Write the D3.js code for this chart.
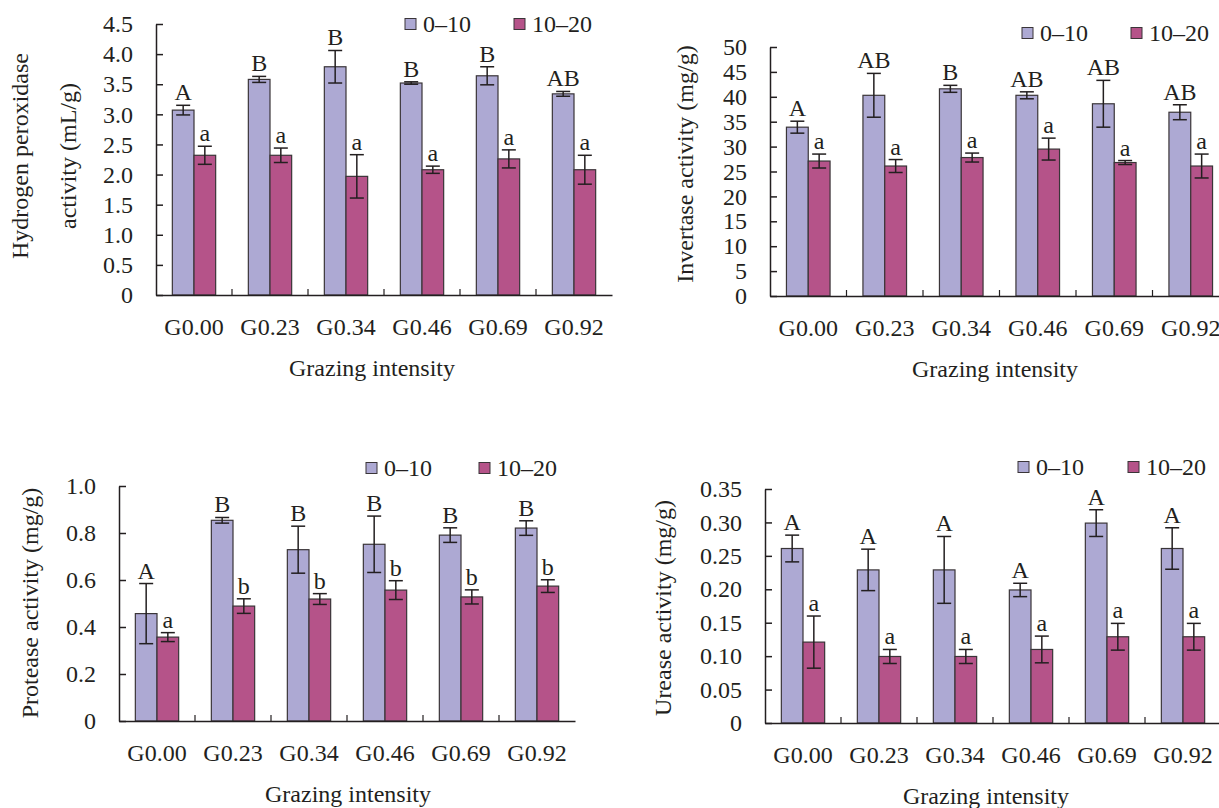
<!DOCTYPE html>
<html>
<head>
<meta charset="utf-8">
<script src="https://cdn.jsdelivr.net/npm/d3@7"></script>
<style>
  body { margin: 0; background: #fff; }
  svg text { font-family: "Liberation Serif", "Times New Roman", serif; fill: #231f20; }
</style>
</head>
<body>
<svg id="vis" width="1219" height="808"></svg>
<script>
// ---- data ----
const categories = ["G0.00", "G0.23", "G0.34", "G0.46", "G0.69", "G0.92"];
const seriesNames = ["0\u201310", "10\u201320"];

const peroxTop = [3.07, 3.58, 3.79, 3.52, 3.64, 3.34];
const peroxTopErr = [0.08, 0.05, 0.27, 0.02, 0.15, 0.04];
const peroxSub = [2.32, 2.32, 1.97, 2.08, 2.26, 2.08];
const peroxSubErr = [0.15, 0.12, 0.36, 0.06, 0.15, 0.24];
const peroxTopLetters = ["A", "B", "B", "B", "B", "AB"];
const peroxSubLetters = ["a", "a", "a", "a", "a", "a"];
const peroxTicks = [0, 0.5, 1, 1.5, 2, 2.5, 3, 3.5, 4, 4.5];
const peroxTickLabels = ["0", "0.5", "1.0", "1.5", "2.0", "2.5", "3.0", "3.5", "4.0", "4.5"];

const invTop = [33.9, 40.3, 41.6, 40.3, 38.6, 36.9];
const invTopErr = [1.2, 4.4, 0.7, 0.7, 4.7, 1.5];
const invSub = [27.1, 26.1, 27.8, 29.5, 26.8, 26.1];
const invSubErr = [1.4, 1.3, 0.9, 2.2, 0.4, 2.4];
const invTopLetters = ["A", "AB", "B", "AB", "AB", "AB"];
const invSubLetters = ["a", "a", "a", "a", "a", "a"];
const invTicks = [0, 5, 10, 15, 20, 25, 30, 35, 40, 45, 50];
const invTickLabels = ["0", "5", "10", "15", "20", "25", "30", "35", "40", "45", "50"];

const protTop = [0.457, 0.854, 0.729, 0.752, 0.791, 0.821];
const protTopErr = [0.128, 0.012, 0.10, 0.12, 0.031, 0.031];
const protSub = [0.357, 0.489, 0.519, 0.557, 0.528, 0.574];
const protSubErr = [0.019, 0.031, 0.023, 0.04, 0.03, 0.027];
const protTopLetters = ["A", "B", "B", "B", "B", "B"];
const protSubLetters = ["a", "b", "b", "b", "b", "b"];
const protTicks = [0, 0.2, 0.4, 0.6, 0.8, 1.0];
const protTickLabels = ["0", "0.2", "0.4", "0.6", "0.8", "1.0"];

const ureTop = [0.261, 0.229, 0.229, 0.199, 0.299, 0.261];
const ureTopErr = [0.02, 0.031, 0.05, 0.01, 0.02, 0.031];
const ureSub = [0.121, 0.0995, 0.0995, 0.11, 0.129, 0.129];
const ureSubErr = [0.039, 0.0105, 0.0105, 0.02, 0.02, 0.02];
const ureTopLetters = ["A", "A", "A", "A", "A", "A"];
const ureSubLetters = ["a", "a", "a", "a", "a", "a"];
const ureTicks = [0, 0.05, 0.10, 0.15, 0.20, 0.25, 0.30, 0.35];
const ureTickLabels = ["0", "0.05", "0.10", "0.15", "0.20", "0.25", "0.30", "0.35"];

// ---- style ----
const colors = ["#ada9d3", "#b55389"];
const fontSize = 24;
const canvas = d3.select("#vis");

function drawPanel(p) {
    const g = canvas.append("g");

    const x = d3.scaleBand().domain(categories).range([p.left, p.left + p.width]);
    const band = x.bandwidth();
    const barW = band * 0.285;
    const sub = d3.scaleBand().domain(seriesNames)
        .range([band / 2 - barW, band / 2 + barW]);
    const y = d3.scaleLinear().domain([0, d3.max(p.ticks)]).range([p.y0, p.yTop]);

    const rows = categories.map((c, i) => ({
        cat: c,
        vals: [
            { s: seriesNames[0], v: p.top[i], e: p.topErr[i], l: p.topLetters[i] },
            { s: seriesNames[1], v: p.sub[i], e: p.subErr[i], l: p.subLetters[i] }
        ]
    }));

    const groups = g.selectAll(".grp").data(rows).join("g")
        .attr("transform", d => `translate(${x(d.cat)},0)`);

    groups.selectAll("rect").data(d => d.vals).join("rect")
        .attr("x", d => sub(d.s))
        .attr("y", d => y(d.v))
        .attr("width", sub.bandwidth())
        .attr("height", d => p.y0 - y(d.v))
        .attr("fill", (d, i) => colors[i])
        .attr("stroke", "#3a3538")
        .attr("stroke-width", 1.2);

    // error bars
    const eb = groups.selectAll(".eb").data(d => d.vals).join("g")
        .attr("transform", d => `translate(${sub(d.s) + sub.bandwidth() / 2},0)`);
    eb.append("line")
        .attr("y1", d => y(d.v + d.e)).attr("y2", d => y(d.v - d.e))
        .attr("stroke", "#231f20").attr("stroke-width", 1.5);
    eb.append("line")
        .attr("x1", -7).attr("x2", 7)
        .attr("y1", d => y(d.v + d.e)).attr("y2", d => y(d.v + d.e))
        .attr("stroke", "#231f20").attr("stroke-width", 1.5);
    eb.append("line")
        .attr("x1", -7).attr("x2", 7)
        .attr("y1", d => y(d.v - d.e)).attr("y2", d => y(d.v - d.e))
        .attr("stroke", "#231f20").attr("stroke-width", 1.5);
    eb.append("text")
        .attr("text-anchor", "middle")
        .attr("y", d => y(d.v + d.e) - 5)
        .style("font-size", fontSize + "px")
        .text(d => d.l);

    // y axis, ticks pointing inward
    const yAxis = g.append("g")
        .attr("transform", `translate(${p.left},0)`)
        .call(d3.axisLeft(y).tickValues(p.ticks)
            .tickFormat((d, i) => p.tickLabels[i])
            .tickSizeInner(-7).tickSizeOuter(0).tickPadding(23));
    yAxis.selectAll("path, line").attr("stroke", "#231f20").attr("stroke-width", 1.5);
    yAxis.selectAll("text").style("font-size", fontSize + "px")
        .attr("fill", "#231f20").attr("font-family", null);

    // x axis with labels at categories
    const xAxis = g.append("g")
        .attr("transform", `translate(0,${p.y0})`)
        .call(d3.axisBottom(x).tickSize(0).tickPadding(23));
    xAxis.select("path").attr("stroke", "#231f20").attr("stroke-width", 1.5);
    xAxis.selectAll("text").style("font-size", fontSize + "px")
        .attr("fill", "#231f20").attr("font-family", null);

    // category boundary ticks, pointing up
    g.selectAll(".bt").data(categories.slice(1)).join("line")
        .attr("x1", d => x(d)).attr("x2", d => x(d))
        .attr("y1", p.y0).attr("y2", p.y0 - 6)
        .attr("stroke", "#231f20").attr("stroke-width", 1.2);

    // y title
    p.yTitle.forEach((t, i) => {
        g.append("text")
            .attr("text-anchor", "middle")
            .attr("dominant-baseline", "central")
            .attr("transform", `translate(${p.yTitleX[i]},${p.yTitleY}) rotate(-90)`)
            .style("font-size", fontSize + "px")
            .text(t);
    });

    // x title
    g.append("text")
        .attr("text-anchor", "middle")
        .attr("x", p.xTitleX).attr("y", p.y0 + 73)
        .attr("dominant-baseline", "central")
        .style("font-size", fontSize + "px")
        .text("Grazing intensity");

    // legend
    seriesNames.forEach((s, i) => {
        g.append("rect")
            .attr("x", p.legendX[i]).attr("y", p.legendY - 5.5)
            .attr("width", 11).attr("height", 11)
            .attr("fill", colors[i])
            .attr("stroke", "#3a3538").attr("stroke-width", 1);
        g.append("text")
            .attr("x", p.legendX[i] + 18).attr("y", p.legendY)
            .attr("dominant-baseline", "central")
            .style("font-size", fontSize + "px")
            .text(s);
    });
}

drawPanel({
    left: 156, width: 456, y0: 295, yTop: 24,
    top: peroxTop, topErr: peroxTopErr, sub: peroxSub, subErr: peroxSubErr,
    topLetters: peroxTopLetters, subLetters: peroxSubLetters,
    ticks: peroxTicks, tickLabels: peroxTickLabels,
    yTitle: ["Hydrogen peroxidase", "activity (mL/g)"], yTitleX: [20, 68], yTitleY: 156,
    xTitleX: 372, legendX: [405, 514], legendY: 24
});

drawPanel({
    left: 770, width: 459, y0: 296, yTop: 47,
    top: invTop, topErr: invTopErr, sub: invSub, subErr: invSubErr,
    topLetters: invTopLetters, subLetters: invSubLetters,
    ticks: invTicks, tickLabels: invTickLabels,
    yTitle: ["Invertase activity (mg/g)"], yTitleX: [685], yTitleY: 164,
    xTitleX: 995, legendX: [1022, 1131], legendY: 33
});

drawPanel({
    left: 119, width: 456, y0: 721, yTop: 486,
    top: protTop, topErr: protTopErr, sub: protSub, subErr: protSubErr,
    topLetters: protTopLetters, subLetters: protSubLetters,
    ticks: protTicks, tickLabels: protTickLabels,
    yTitle: ["Protease activity (mg/g)"], yTitleX: [30], yTitleY: 603,
    xTitleX: 348, legendX: [366, 479], legendY: 468
});

drawPanel({
    left: 765, width: 456, y0: 723, yTop: 489,
    top: ureTop, topErr: ureTopErr, sub: ureSub, subErr: ureSubErr,
    topLetters: ureTopLetters, subLetters: ureSubLetters,
    ticks: ureTicks, tickLabels: ureTickLabels,
    yTitle: ["Urease activity (mg/g)"], yTitleX: [663], yTitleY: 608,
    xTitleX: 986, legendX: [1018, 1128], legendY: 467
});
</script>
</body>
</html>
